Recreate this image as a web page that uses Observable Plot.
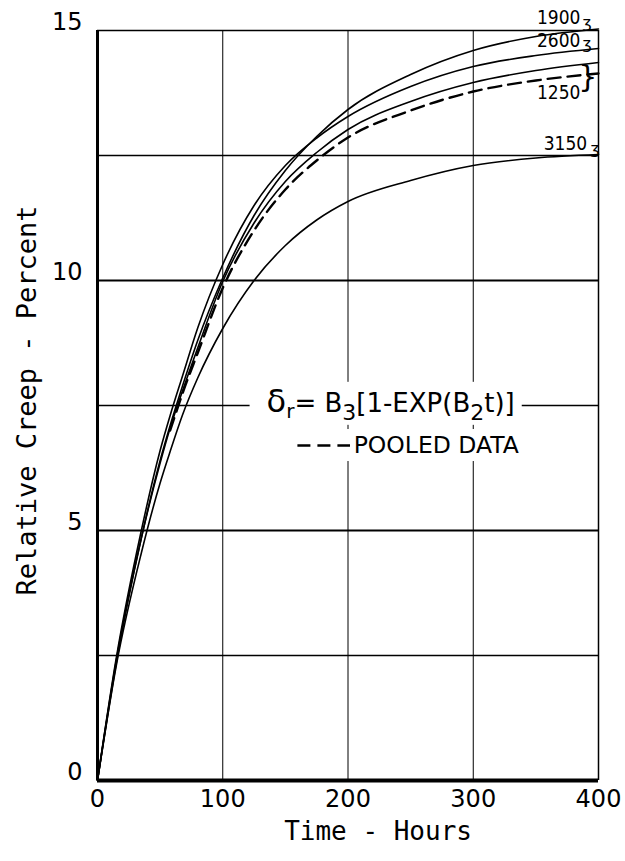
<!DOCTYPE html>
<html><head><meta charset="utf-8">
<script src="https://cdn.jsdelivr.net/npm/d3@7"></script>
<script src="https://cdn.jsdelivr.net/npm/@observablehq/plot@0.6"></script>
<style>body{margin:0;background:#fff}#chart{width:625px;height:861px}</style>
</head><body><div id="chart"></div>
<script>
// ---- data ----
const hours       = [0, 15, 35, 50, 58, 68, 80, 100, 125, 150, 175, 200, 250, 300, 350, 400];
const creep1900   = [0, 2.35, 4.85, 6.4, 7.1, 7.9, 8.8, 10.05, 11.3, 12.2, 12.88, 13.42, 14.12, 14.6, 14.88, 15.03];
const creep2600   = [0, 2.45, 5.0, 6.6, 7.3, 8.1, 9.05, 10.32, 11.5, 12.3, 12.85, 13.28, 13.88, 14.28, 14.5, 14.64];
const creep1250   = [0, 2.4, 4.85, 6.35, 7.05, 7.8, 8.65, 9.98, 11.15, 11.98, 12.56, 13.02, 13.58, 13.96, 14.2, 14.36];
const creep3150   = [0, 2.3, 4.55, 5.95, 6.58, 7.32, 8.05, 9.04, 10.0, 10.7, 11.21, 11.58, 12.0, 12.3, 12.45, 12.52];
const creepPooled = [null, null, null, null, 7.0, 7.75, 8.55, 9.85, 11.0, 11.82, 12.4, 12.86, 13.4, 13.78, 14.0, 14.14];
const seriesNames = ["1900", "2600", "1250", "3150"];
const xTicks = [0, 100, 200, 300, 400];
const yTicks = [0, 5, 10, 15];
const xGrid = [100, 200, 300];
const yGridThin = [2.5, 7.5, 12.5];
const yGridThick = [5, 10];
const xTitle = "Time - Hours";
const yTitle = "Relative Creep - Percent";
const formulaKey = "FORMULA";
const legendText = "POOLED DATA";

const solidSeries = [creep1900, creep2600, creep1250, creep3150];
const solidRows = seriesNames.flatMap((name, k) => hours.map((t, i) => ({series: name, t, v: solidSeries[k][i]})));
const pooledRows = hours.map((t, i) => ({series: "pooled", t, v: creepPooled[i]}));

const tickFont = "DejaVu Sans, Open Sans, sans-serif";
const titleFont = "DejaVu Sans Mono, monospace";
const labelFont = "DejaVu Sans Condensed, Liberation Sans Narrow, DejaVu Sans, sans-serif";

const plot = Plot.plot({
  width: 625, height: 861,
  marginLeft: 97, marginRight: 27, marginTop: 30, marginBottom: 81,
  x: {domain: [0, 400], label: null},
  y: {domain: [0, 15], label: null},
  style: {background: "#fff", color: "#000"},
  marks: [
    Plot.ruleX(xGrid, {stroke: "#000", strokeWidth: 1}),
    Plot.ruleY(yGridThin, {stroke: "#000", strokeWidth: 1.3}),
    Plot.ruleY(yGridThick, {stroke: "#000", strokeWidth: 2}),
    Plot.ruleY([15], {stroke: "#000", strokeWidth: 1.3}),
    Plot.ruleX([400], {stroke: "#000", strokeWidth: 1.5}),
    Plot.ruleX([0], {stroke: "#000", strokeWidth: 3}),
    Plot.ruleY([0], {stroke: "#000", strokeWidth: 4}),
    Plot.axisX(xTicks, {label: null, tickSize: 0, tickPadding: 9, fontSize: 24, fontFamily: tickFont, tickFormat: d => String(d)}),
    Plot.axisY(yTicks, {label: null, tickSize: 0, tickPadding: 15, dy: -8, fontSize: 24, fontFamily: tickFont, tickFormat: d => String(d)}),
    Plot.text([xTitle], {x: 224, frameAnchor: "bottom", dy: 59, fontSize: 26, fontFamily: titleFont, textAnchor: "middle"}),
    Plot.text([yTitle], {y: 7.6, frameAnchor: "left", dx: -70, rotate: -90, fontSize: 27, fontFamily: titleFont, textAnchor: "middle"}),
    Plot.text([formulaKey], {x: 135, y: 7.5, textAnchor: "start", fontSize: 26, fontFamily: tickFont, dy: -2}),
    Plot.text([legendText], {x: 204.5, y: 6.7, textAnchor: "start", fontSize: 23.5, fontFamily: tickFont}),
    Plot.ruleY([6.7], {x1: 160, x2: 202, stroke: "#000", strokeWidth: 2.5, strokeDasharray: "13,7"}),
    Plot.line(solidRows, {x: "t", y: "v", z: "series", stroke: "#000", strokeWidth: 1.6, curve: "monotone-x"}),
    Plot.line(pooledRows, {x: "t", y: "v", stroke: "#000", strokeWidth: 2.4, strokeDasharray: "13,7", curve: "monotone-x"}),
    Plot.text([seriesNames[0]], {x: 385.6, y: 15.25, textAnchor: "end", fontSize: 19, fontFamily: labelFont}),
    Plot.text([seriesNames[1]], {x: 385.6, y: 14.79, textAnchor: "end", fontSize: 19, fontFamily: labelFont}),
    Plot.text([seriesNames[2]], {x: 385.6, y: 13.76, textAnchor: "end", fontSize: 19, fontFamily: labelFont}),
    Plot.text([seriesNames[3]], {x: 391, y: 12.74, textAnchor: "end", fontSize: 19, fontFamily: labelFont}),
    Plot.text(["ʒ"], {x: 387.2, y: 15.16, textAnchor: "start", fontSize: 16, fontFamily: tickFont}),
    Plot.text(["ʒ"], {x: 387.2, y: 14.73, textAnchor: "start", fontSize: 16, fontFamily: tickFont}),
    Plot.text(["ʒ"], {x: 393.6, y: 12.64, textAnchor: "start", fontSize: 16, fontFamily: tickFont}),
    Plot.text(["}"], {x: 391.5, y: 14.06, textAnchor: "middle", fontSize: 30, fontFamily: tickFont})
  ]
});
document.getElementById("chart").append(plot);

// rich formatting of the formula (subscripts) and white knock-out behind legend texts
const allText = Array.from(plot.querySelectorAll("text"));
const ft = allText.find(t => t.textContent === formulaKey);
if (ft) {
  ft.textContent = "";
  const parts = [["δ", 32, 0], ["r", 20, 6], ["= B", 26, -6], ["3", 22, 8], ["[1-EXP(B", 26, -8], ["2", 22, 8], ["t)]", 26, -8]];
  parts.forEach(([s, fs, dy]) => {
    const ts = document.createElementNS("http://www.w3.org/2000/svg", "tspan");
    ts.textContent = s; ts.setAttribute("font-size", fs); if (dy) ts.setAttribute("dy", dy);
    ft.appendChild(ts);
  });
}
function knockout(t, padL, padR, padV) {
  if (!t) return;
  const b = t.getBBox();
  const r = document.createElementNS("http://www.w3.org/2000/svg", "rect");
  r.setAttribute("x", b.x - padL); r.setAttribute("y", b.y - padV);
  r.setAttribute("width", b.width + padL + padR); r.setAttribute("height", b.height + 2 * padV);
  r.setAttribute("fill", "#fff"); r.setAttribute("stroke", "none");
  const tr = t.getAttribute("transform"); if (tr) r.setAttribute("transform", tr);
  t.parentNode.insertBefore(r, t);
}
knockout(ft, 17, 7, 0);
knockout(allText.find(t => t.textContent === legendText), 7, 4, 2);
</script></body></html>
